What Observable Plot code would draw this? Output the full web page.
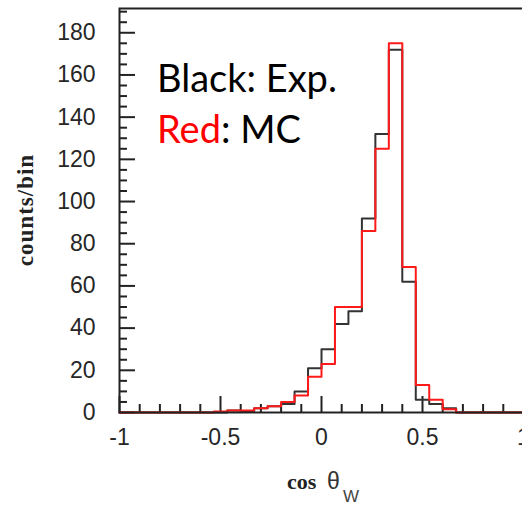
<!DOCTYPE html>
<html>
<head>
<meta charset="utf-8">
<script src="https://cdn.jsdelivr.net/npm/d3@7"></script>
<script src="https://cdn.jsdelivr.net/npm/@observablehq/plot@0.6"></script>
<style>
  html, body { margin: 0; padding: 0; overflow: hidden; background: #fff; }
  #chart { width: 522px; height: 505px; overflow: hidden; }
  #chart svg { max-width: none !important; width: 540px !important; height: 505px !important; display: block; }
</style>
</head>
<body>
<div id="chart"></div>
<script>
// Histogram: 30 bins spanning cos θW from -1 to 1
const xMin = -1;
const xMax = 1;
const nBins = 30;

// counts per bin (Black: experiment, Red: Monte Carlo)
const expCounts = [0, 0, 0, 0, 0, 0, 0, 0, 1, 0.5, 2, 3, 4, 10, 21, 30, 42, 48, 92, 132, 172, 62, 6, 4, 2, 0, 0, 0, 0, 0];
const mcCounts  = [0, 0, 0, 0, 0, 0, 0, 0.5, 1, 1, 2, 3, 5, 8, 17, 23, 50, 50, 86, 125, 175, 69, 13, 6, 1.5, 0, 0, 0, 0, 0];

// axis ticks
const xMajorTicks = [-1, -0.5, 0, 0.5, 1];
const xMinorTicks = [-0.9, -0.8, -0.7, -0.6, -0.4, -0.3, -0.2, -0.1, 0.1, 0.2, 0.3, 0.4, 0.6, 0.7, 0.8, 0.9];
const yMajorTicks = [0, 20, 40, 60, 80, 100, 120, 140, 160, 180];
const yMinorTicks = [5, 10, 15, 25, 30, 35, 45, 50, 55, 65, 70, 75, 85, 90, 95, 105, 110, 115, 125, 130, 135, 145, 150, 155, 165, 170, 175, 185, 190];

const yMax = 191.5;

const binWidth = (xMax - xMin) / nBins;
function steps(counts) {
  const pts = counts.map((c, i) => ({x: xMin + i * binWidth, y: c}));
  pts.push({x: xMax, y: counts[counts.length - 1]});
  return pts;
}

const W = 540, H = 505;
const mL = 119, mR = 17, mT = 8, mB = 93;
const fw = W - mL - mR, fh = H - mT - mB;

const plot = Plot.plot({
  width: W,
  height: H,
  marginLeft: mL,
  marginRight: mR,
  marginTop: mT,
  marginBottom: mB,
  style: {fontFamily: "'Liberation Sans', Arial, sans-serif", fontSize: "23px", color: "#262626", background: "#fff", maxWidth: "none"},
  x: {domain: [xMin, xMax]},
  y: {domain: [0, yMax]},
  marks: [
    Plot.ruleX(xMinorTicks, {insetTop: fh - 8, stroke: "#222", strokeWidth: 2}),
    Plot.ruleX(xMajorTicks, {insetTop: fh - 16, stroke: "#222", strokeWidth: 2}),
    Plot.ruleY(yMinorTicks, {insetRight: fw - 8, stroke: "#222", strokeWidth: 2}),
    Plot.ruleY(yMajorTicks, {insetRight: fw - 16, stroke: "#222", strokeWidth: 2}),
    Plot.line(steps(expCounts), {x: "x", y: "y", curve: "step-after", stroke: "#333", strokeWidth: 2}),
    Plot.line(steps(mcCounts), {x: "x", y: "y", curve: "step-after", stroke: "#ff1a1a", strokeWidth: 2}),
    Plot.frame({stroke: "#222", strokeWidth: 2}),
    Plot.axisX(xMajorTicks, {tickSize: 0, tickPadding: 16, fontSize: 23, tickFormat: d => String(d), label: null}),
    Plot.axisY(yMajorTicks, {tickSize: 0, tickPadding: 24, fontSize: 23, tickFormat: d => String(d), label: null})
  ]
});

document.getElementById("chart").appendChild(plot);

const svg = d3.select(plot);

// y axis title
svg.append("text")
  .attr("transform", "translate(33,210) rotate(-90)")
  .attr("text-anchor", "middle")
  .style("font-family", "'Liberation Serif', 'Times New Roman', serif")
  .style("font-weight", "bold")
  .style("font-size", "23px")
  .style("letter-spacing", "1px")
  .attr("fill", "#222")
  .text("counts/bin");

// x axis title: cos θ_W
const xt = svg.append("text").attr("fill", "#222").attr("text-anchor", "start");
xt.append("tspan").attr("x", 287).attr("y", 489)
  .style("font-family", "'Liberation Serif', 'Times New Roman', serif")
  .style("font-weight", "bold").style("font-size", "22px").text("cos");
xt.append("tspan").attr("x", 327).attr("y", 489)
  .style("font-family", "'Liberation Sans', Arial, sans-serif")
  .style("font-size", "23px").attr("fill", "#333").text("θ");
xt.append("tspan").attr("x", 343).attr("y", 502)
  .style("font-family", "'Liberation Sans', Arial, sans-serif")
  .style("font-size", "17px").attr("fill", "#444").text("W");

// legend text
const lg1 = svg.append("text").attr("x", 157).attr("y", 92).attr("text-anchor", "start")
  .style("font-family", "Lato, 'Open Sans', sans-serif").style("font-size", "38px").attr("fill", "#000");
lg1.append("tspan").text("Black: Exp.");
const lg2 = svg.append("text").attr("x", 157).attr("y", 143).attr("text-anchor", "start")
  .style("font-family", "Lato, 'Open Sans', sans-serif").style("font-size", "38px").attr("fill", "#000");
lg2.append("tspan").attr("fill", "#ff0000").text("Red");
lg2.append("tspan").text(": MC");
</script>
</body>
</html>
